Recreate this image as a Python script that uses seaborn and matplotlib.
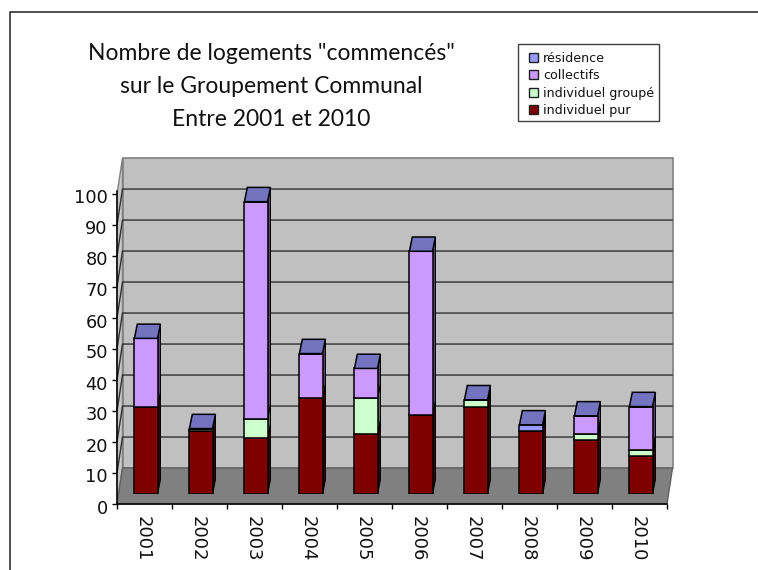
import matplotlib
matplotlib.use("Agg")
import matplotlib.pyplot as plt
from matplotlib.patches import Polygon, Rectangle
from matplotlib.lines import Line2D
from matplotlib.transforms import ScaledTranslation
import numpy as np
import pandas as pd
import seaborn as sns

years = ["2001","2002","2003","2004","2005","2006","2007","2008","2009","2010"]
individuel_pur    = [28.2, 20.4, 18.0, 31.0, 19.4, 25.6, 28.2, 20.4, 17.5, 12.3]
individuel_groupe = [0.0,  0.7,  6.3,  0.0,  11.6, 0.0,  2.2,  0.0,  1.9,  1.9]
collectifs        = [22.0, 0.0,  70.0, 14.3, 9.5,  52.7, 0.0,  0.0,  5.8,  14.0]
residence         = [0.0,  0.0,  0.0,  0.0,  0.0,  0.0,  0.0,  1.9,  0.0,  0.0]
series_names = ["individuel pur", "individuel groupé", "collectifs", "résidence"]
series_values = [individuel_pur, individuel_groupe, collectifs, residence]
colors = ["#800000", "#CCFFCC", "#CC99FF", "#9999FF"]
side_colors = ["#400000", "#668066", "#664D80", "#4D4D80"]
top_color = "#7373BF"
title = 'Nombre de logements "commencés"\nsur le Groupement Communal\nEntre 2001 et 2010'

W, H = 758, 570
sns.set_theme(style="white")
plt.rcParams["font.family"] = ["DejaVu Sans"]
fig = plt.figure(figsize=(W/100, H/100), dpi=100)

def rect(x0, y_bottom, w, h):
    return [x0/W, (H-y_bottom)/H, w/W, h/H]

# Front plane of the 3D box: 0 at pixel 504, 100 at pixel 194
ax = fig.add_axes(rect(117, 504, 550, 310))
ax.set_xlim(-0.5, 9.5); ax.set_ylim(0, 100)
ax.set_facecolor("none")
depth_x, depth_y = 0.1, 11.6   # depth of the box in data units
x0, x1 = -0.5, 9.5
wall = Polygon([(x0+depth_x,depth_y),(x1+depth_x,depth_y),(x1+depth_x,100+depth_y),(x0+depth_x,100+depth_y)],
               closed=True, fc="#C0C0C0", ec="#808080", lw=1.2, clip_on=False, zorder=1)
side = Polygon([(x0,0),(x0+depth_x,depth_y),(x0+depth_x,100+depth_y),(x0,100)],
               closed=True, fc="#C8C8C8", ec="#808080", lw=1, clip_on=False, zorder=1)
floor = Polygon([(x0,0),(x1,0),(x1+depth_x,depth_y),(x0+depth_x,depth_y)],
                closed=True, fc="#808080", ec="#606060", lw=1, clip_on=False, zorder=1.2)
for p in (wall, side, floor):
    ax.add_patch(p)
for v in range(10, 100, 10):
    ax.plot([x0, x0+depth_x, x1+depth_x], [v, v+depth_y, v+depth_y], color="#303030", lw=1,
            clip_on=False, zorder=1.1)

for s in ("top", "right"):
    ax.spines[s].set_visible(False)
ax.spines["left"].set_bounds(0, 101)
for s in ("left", "bottom"):
    ax.spines[s].set_color("black"); ax.spines[s].set_linewidth(1.1); ax.spines[s].set_zorder(3)
ax.set_yticks(range(0, 101, 10))
ax.tick_params(axis="y", left=True, length=3.6, width=1, color="black", pad=3,
               labelsize=12.8, labelcolor="#111111")
ax.set_xticks(np.arange(-0.5, 10, 1))
ax.set_xticklabels([])
ax.tick_params(axis="x", which="major", bottom=True, length=3.6, width=1, color="black")
ax.set_xticks(np.arange(10), minor=True)
ax.set_xticklabels(years, minor=True, rotation=-90, ha="center", va="top", fontsize=13, color="#111111")
ax.tick_params(axis="x", which="minor", bottom=False, length=0, pad=8.4)
ax.grid(False)
for lab in ax.get_yticklabels():
    lab.set_transform(lab.get_transform() + ScaledTranslation(0, -2.5/100, fig.dpi_scale_trans))
for lab in ax.get_xticklabels(minor=True):
    lab.set_transform(lab.get_transform() + ScaledTranslation(-2/100, 0, fig.dpi_scale_trans))

# Bars stand partway into the box: same scale, shifted
axb = fig.add_axes(rect(118.5, 494, 550, 310))
axb.set_facecolor("none")
bottom = np.zeros(len(years))
bar_w = 0.42
for name, vals, col in zip(series_names, series_values, colors):
    sns.barplot(x=years, y=vals, bottom=bottom, color=col, saturation=1, width=bar_w,
                edgecolor="black", linewidth=1.1, label=name, ax=axb, legend=False, zorder=3)
    bottom = bottom + np.array(vals)
axb.set_xlim(-0.5, 9.5); axb.set_ylim(0, 100)
axb.axis("off")

bar_dx, bar_dy = 0.052, 4.6
bottom = np.zeros(len(years))
for vals, sc in zip(series_values, side_colors):
    for i, v in enumerate(vals):
        if v > 0:
            xr = i + bar_w/2
            axb.add_patch(Polygon([(xr,bottom[i]),(xr+bar_dx,bottom[i]+bar_dy),
                                   (xr+bar_dx,bottom[i]+v+bar_dy),(xr,bottom[i]+v)],
                                  closed=True, fc=sc, ec="black", lw=0.8, clip_on=False, zorder=2.5))
    bottom = bottom + np.array(vals)
for i, t in enumerate(bottom):
    xl, xr = i - bar_w/2, i + bar_w/2
    axb.add_patch(Polygon([(xl,t),(xr,t),(xr+bar_dx,t+bar_dy),(xl+bar_dx,t+bar_dy)],
                          closed=True, fc=top_color, ec="black", lw=1.1, clip_on=False, zorder=4))

# Chart border (top and left only in this crop)
fig.add_artist(Line2D([9.5/W, 9.5/W, 1], [0, (H-11.5)/H, (H-11.5)/H], color="#303030", lw=1.2))

fig.text(271.5/W, (H-43)/H, title, ha="center", va="top", multialignment="center",
         fontsize=16.5, family="Lato", linespacing=1.7, color="#111111")

# Legend box and entries
fig.add_artist(Rectangle((518/W, (H-121)/H), 141/W, 77/H, transform=fig.transFigure,
                         fc="white", ec="#404040", lw=1, zorder=5))
handles = [plt.Rectangle((0,0),1,1, fc=c, ec="#202020", lw=1) for c in colors[::-1]]
leg = fig.legend(handles, series_names[::-1], loc="upper left",
                 bbox_to_anchor=(529/W, (H-52)/H), bbox_transform=fig.transFigure,
                 borderaxespad=0, frameon=False,
                 prop={"family": "DejaVu Sans", "size": 9.1}, labelcolor="#111111",
                 handlelength=0.7, handleheight=0.7, handletextpad=0.4,
                 labelspacing=0.34, borderpad=0)
leg.set_zorder(6)

fig.savefig("out.png", dpi=100)
